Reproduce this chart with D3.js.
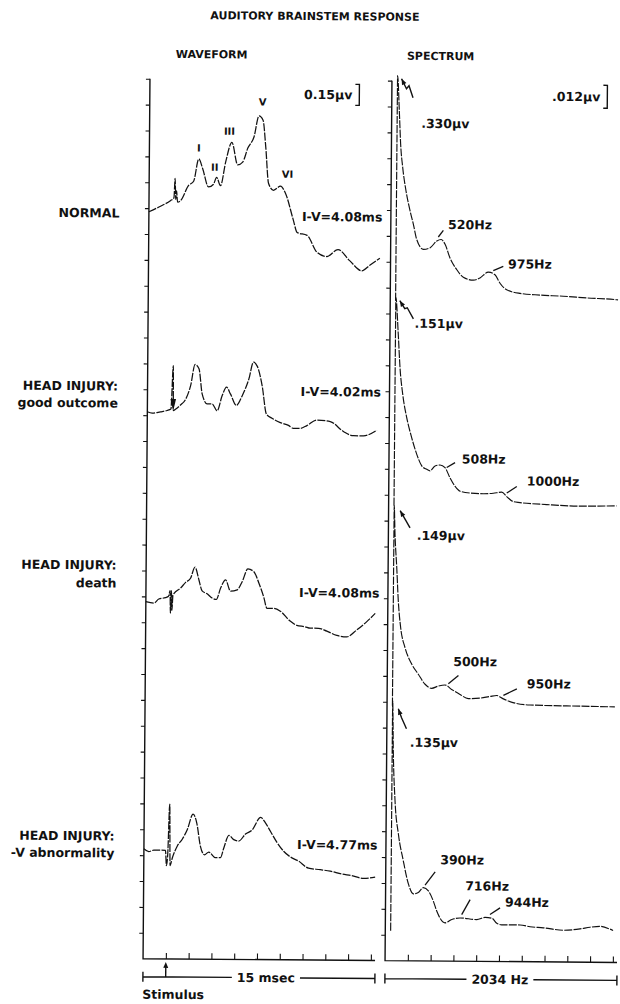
<!DOCTYPE html>
<html>
<head>
<meta charset="utf-8">
<script src="https://cdn.jsdelivr.net/npm/d3@7"></script>
<style>
  html, body { margin: 0; padding: 0; background: #fff; }
  svg { display: block; }
  text { font-family: "DejaVu Sans", sans-serif; font-weight: bold; fill: #111; }
</style>
</head>
<body>
<div id="chart"></div>
<script>
// ---- data ----
const rowLabels = [["NORMAL"], ["HEAD INJURY:", "good outcome"], ["HEAD INJURY:", "death"], ["HEAD INJURY:", "-V abnormality"]];
const intervalLabels = ["I-V=4.08ms", "I-V=4.02ms", "I-V=4.08ms", "I-V=4.77ms"];
const peakNames = ["I", "II", "III", "V", "VI"];
const peakTimes = [3.26, 4.44, 5.43, 7.20, 8.65]; // ms on the normal trace

// waveforms: [ms, µV relative to the trace baseline]
const waveNormal = [[0,0],[0.76,0.04],[1.41,0.08],[1.64,0.10],[1.71,0.24],[1.76,0.09],[1.81,0.15],[1.88,0.07],[2.07,0.08],[2.60,0.19],[2.93,0.22],[3.26,0.38],[3.52,0.31],[3.91,0.18],[4.24,0.20],[4.44,0.25],[4.70,0.19],[5.03,0.36],[5.43,0.50],[5.82,0.34],[6.15,0.36],[6.48,0.46],[6.88,0.54],[7.20,0.69],[7.47,0.66],[7.66,0.47],[7.86,0.21],[8.19,0.16],[8.65,0.19],[8.98,0.14],[9.51,-0.05],[9.77,-0.14],[10.43,-0.16],[11.09,-0.28],[11.74,-0.31],[12.47,-0.26],[13.26,-0.34],[14.05,-0.41],[14.57,-0.37],[15.23,-0.32]];
const waveGood = [[0,0],[0.32,-0.01],[0.86,0],[1.30,0.01],[1.55,0.02],[1.69,0.33],[1.71,0.01],[1.85,0.02],[2.18,0.05],[2.51,0.09],[2.84,0.19],[3.12,0.34],[3.38,0.31],[3.60,0.13],[3.93,0.06],[4.26,0.06],[4.59,0.01],[4.92,0.12],[5.20,0.18],[5.47,0.13],[5.86,0.05],[6.24,0.12],[6.67,0.24],[6.96,0.36],[7.22,0.33],[7.55,0.19],[7.84,-0.01],[8.21,-0.04],[8.76,-0.07],[9.30,-0.09],[9.63,-0.11],[10.07,-0.11],[10.51,-0.09],[11.17,-0.05],[12.05,-0.06],[12.92,-0.13],[13.58,-0.16],[14.24,-0.16],[15.12,-0.12]];
const waveDeath = [[0,0],[0.52,-0.01],[0.85,0.02],[1.29,0.03],[1.49,0.04],[1.59,0.08],[1.62,-0.08],[1.68,0.08],[1.72,-0.06],[1.78,0.05],[1.84,0.06],[2.28,0.10],[2.61,0.14],[2.93,0.17],[3.22,0.25],[3.48,0.16],[3.70,0.08],[4.03,0.06],[4.36,0.03],[4.64,0.02],[4.91,0.10],[5.24,0.16],[5.57,0.08],[6.01,0.09],[6.34,0.15],[6.70,0.24],[7.10,0.22],[7.43,0.14],[7.76,0.04],[7.98,-0.04],[8.41,-0.04],[8.86,-0.06],[9.51,-0.13],[9.95,-0.16],[10.50,-0.17],[10.83,-0.18],[11.38,-0.18],[11.93,-0.20],[12.59,-0.23],[13.24,-0.24],[13.90,-0.19],[14.56,-0.13],[15.11,-0.07]];
const waveAbnormal = [[0,0],[0.32,-0.02],[0.65,-0.01],[1.09,-0.01],[1.42,-0.01],[1.49,-0.12],[1.57,-0.04],[1.68,0.32],[1.73,-0.12],[1.86,-0.07],[2.19,0.02],[2.52,0.07],[2.85,0.14],[3.22,0.25],[3.46,0.19],[3.72,0.02],[3.99,-0.04],[4.27,-0.02],[4.71,-0.06],[5.04,-0.06],[5.26,0.01],[5.59,0.10],[5.91,0.07],[6.24,0.06],[6.68,0.11],[7.12,0.14],[7.67,0.23],[8.00,0.19],[8.33,0.13],[8.77,0.05],[9.20,-0.01],[9.64,-0.05],[10.19,-0.08],[10.85,-0.13],[11.62,-0.14],[12.28,-0.15],[13.05,-0.17],[13.70,-0.18],[14.47,-0.20],[15.24,-0.19]];

// spectra: [Hz, µV]
const specNormal = [[48,0],[50,0.330],[68,0.099],[82,0.0818],[102,0.0696],[133,0.0574],[171,0.0469],[201,0.0400],[232,0.0321],[293,0.0269],[353,0.0278],[412,0.0313],[450,0.0321],[486,0.0296],[530,0.0226],[591,0.0165],[651,0.0125],[740,0.0110],[800,0.0122],[874,0.0153],[934,0.0139],[979,0.0095],[1039,0.0061],[1158,0.0043],[1337,0.0035],[1545,0.0030],[1754,0.0022],[2020,0.0014],[2034,0.0013]];
const specGood = [[48,0],[50,0.151],[74,0.0896],[92,0.0721],[118,0.0582],[155,0.0461],[201,0.0356],[247,0.0270],[293,0.0209],[338,0.0191],[367,0.0183],[412,0.0209],[456,0.0214],[501,0.0200],[546,0.0148],[591,0.0104],[637,0.0078],[726,0.0069],[845,0.0066],[934,0.0069],[1009,0.0075],[1054,0.0052],[1113,0.0026],[1173,0.0021],[1412,0.0012],[1710,0.0005],[2034,0.0008]];
const specDeath = [[48,0],[50,0.149],[59,0.0896],[77,0.0721],[93,0.0548],[116,0.0408],[156,0.0304],[217,0.0218],[277,0.0165],[338,0.0113],[397,0.0092],[456,0.0104],[516,0.0110],[576,0.0087],[651,0.0061],[725,0.0040],[829,0.0043],[919,0.0052],[979,0.0057],[1038,0.0040],[1124,0.0021],[1276,0.0009],[1723,0.0005],[2034,0.0003]];
const specAbnormal = [[48,0],[50,0.135],[59,0.0939],[78,0.0678],[110,0.0506],[156,0.0365],[203,0.0245],[248,0.0193],[292,0.0200],[337,0.0226],[382,0.0209],[427,0.0156],[458,0.0104],[533,0.0043],[593,0.0061],[667,0.0069],[816,0.0061],[890,0.0073],[950,0.0069],[995,0.0043],[1039,0.0035],[1203,0.0035],[1292,0.0026],[1411,0.0021],[1589,0.0009],[1739,0.0017],[1828,0.0026],[1917,0.0031],[2006,0.0017],[2034,0.0010]];

const specPeakValues = [0.330, 0.151, 0.149, 0.135];
const specPeakLabels = [".330µv", ".151µv", ".149µv", ".135µv"];
const bumpLabels = [["520Hz", "975Hz"], ["508Hz", "1000Hz"], ["500Hz", "950Hz"], ["390Hz", "716Hz", "944Hz"]];
const bumpHz = [[425, 918], [516, 1054], [546, 1038], [352, 681, 934]];

const waveScaleLabel = "0.15µv", waveScaleValue = 0.15;
const specScaleLabel = ".012µv", specScaleValue = 0.012;
const timeSpanLabel = "15 msec", freqSpanLabel = "2034 Hz";
const stimulusTime = 1.5;

// ---- layout ----
const width = 620, height = 1004;
const waveBase = [213, 413, 603, 850];
const specBase = [300, 505, 705, 930];
const specTop = [75, 297, 505, 700];
const rowLabelY = [[219], [392, 409], [571, 589], [842, 859]];
const intervalY = [221, 396, 597, 849];
const peakLabelOffsets = [[0, -7.5], [-2, -6.5], [-2.5, -7.5], [3.5, -10.5], [7, -8.5]];
const bumpLeader = [[[5, -6.7], [10, -4.3]], [[8.3, -5], [10, -6.7]], [[10, -8.4], [13.4, -6.6]], [[10, -13.3], [8.3, -15], [10, -6.7]]];
const bumpText = [[[9.7, -8], [14.7, -2.3]], [[15, -4.3], [20, -7.7]], [[4.7, -17.7], [23.4, -7.3]], [[15, -21], [3.3, -24.3], [15, -8]]];
const peakArrows = [
  [[4, 3], [9, 13], [11.5, 10], [15.6, 22]],
  [[4, 3], [9, 11], [11.5, 10], [17.7, 21]],
  [[6, 5], [16, 22]],
  [[5.7, 8], [9, 17], [14, 28]]
];
const peakTextOffsets = [[24, 52], [19, 30], [22.7, 34], [17.5, 46]];

const svg = d3.select("#chart").append("svg")
  .attr("width", width)
  .attr("height", height);
svg.append("rect").attr("width", width).attr("height", height).attr("fill", "#fff");

// the scanned original sits slightly rotated
const g = svg.append("g").attr("transform", "rotate(0.45 310 520)");

const xWave = d3.scaleLinear().domain([0, 15]).range([146.5, 374.3]);
const xSpec = d3.scaleLinear().domain([0, 2034]).range([388.5, 616.3]);
const yDiv = d3.scaleLinear().domain([0, 34]).range([960, 80]);
const aWave = d3.scaleLinear().domain([0, 0.15]).range([0, 21]);
const aSpec = d3.scaleLinear().domain([0, 0.012]).range([0, 23]);

// titles
g.append("text").attr("x", 311).attr("y", 20).attr("text-anchor", "middle")
  .style("font-size", "11px").text("AUDITORY BRAINSTEM RESPONSE");
g.append("text").attr("x", 208).attr("y", 59).attr("text-anchor", "middle")
  .style("font-size", "11px").text("WAVEFORM");
g.append("text").attr("x", 437).attr("y", 59).attr("text-anchor", "middle")
  .style("font-size", "11px").text("SPECTRUM");

// axes
function drawAxes(xs, tickVals, extra) {
  const x0 = xs.range()[0];
  const x1 = xs.range()[1] + extra;
  const ax = g.append("g").attr("transform", `translate(${x0},0)`)
    .call(d3.axisLeft(yDiv).tickValues(d3.range(1, 35)).tickSize(4).tickSizeOuter(0).tickFormat(""));
  ax.select(".domain").remove();
  const bx = g.append("g").attr("transform", "translate(0,960)")
    .call(d3.axisBottom(xs).tickValues(tickVals).tickSize(-6).tickSizeOuter(0).tickFormat(""));
  bx.select(".domain").remove();
  g.selectAll(".tick line").attr("stroke", "#111").attr("stroke-width", 1.1);
  g.append("path")
    .attr("d", `M${x0},${yDiv(34)}V960H${x1}`)
    .attr("fill", "none").attr("stroke", "#111").attr("stroke-width", 1.4);
}
drawAxes(xWave, d3.range(1, 11).map(k => k * 1.5), 4.2);
drawAxes(xSpec, d3.range(1, 11).map(k => k * 203.4), 4.2);

const traceStyle = sel => sel.attr("fill", "none").attr("stroke", "#111")
  .attr("stroke-width", 1.25).attr("stroke-dasharray", "8,1.3").attr("stroke-linejoin", "round");

// waveforms
const waves = [waveNormal, waveGood, waveDeath, waveAbnormal];
waves.forEach((w, r) => {
  const line = d3.line()
    .x(d => xWave(d[0]))
    .y(d => waveBase[r] - aWave(d[1]))
    .curve(d3.curveMonotoneX);
  g.append("path").datum(w).attr("d", line).call(traceStyle);

  g.append("text").attr("x", 380).attr("y", intervalY[r]).attr("text-anchor", "end")
    .style("font-size", "12.5px").text(intervalLabels[r]);

  const lab = g.append("text").attr("text-anchor", "end").style("font-size", "12.5px");
  rowLabels[r].forEach((t, i) => {
    lab.append("tspan").attr("x", 117).attr("y", rowLabelY[r][i]).text(t);
  });
});

// stimulus arrowhead artefact on the second trace
{
  const sx = xWave(1.70), b = waveBase[1];
  g.append("path").attr("d", `M${sx - 2.8},${b - 13}L${sx + 2.8},${b - 13}L${sx},${b - 1}Z`).attr("fill", "#111");
}

function valueAt(data, v) {
  const i = Math.max(1, Math.min(data.length - 1, d3.bisector(d => d[0]).left(data, v)));
  const a = data[i - 1], b = data[i];
  const t = (v - a[0]) / (b[0] - a[0]);
  return a[1] + t * (b[1] - a[1]);
}

// peak labels on the normal trace
peakNames.forEach((n, i) => {
  const px = xWave(peakTimes[i]);
  const py = waveBase[0] - aWave(valueAt(waveNormal, peakTimes[i]));
  g.append("text").attr("x", px + peakLabelOffsets[i][0]).attr("y", py + peakLabelOffsets[i][1])
    .attr("text-anchor", "middle").style("font-size", "10px").text(n);
});

// spectra
const spectra = [specNormal, specGood, specDeath, specAbnormal];
spectra.forEach((s, r) => {
  const topVal = aSpec.invert(specBase[r] - specTop[r]);
  const yOf = v => specBase[r] - aSpec(Math.min(v, topVal));
  const line = d3.line()
    .x(d => xSpec(d[0]))
    .y(d => yOf(d[1]))
    .curve(d3.curveMonotoneX);
  g.append("path").datum(s).attr("d", line).call(traceStyle).attr("stroke-width", 1.15);

  // off-scale peak arrow
  const tx = xSpec(s[1][0]), ty = yOf(specPeakValues[r]);
  const pts = peakArrows[r].map(p => [tx + p[0], ty + p[1]]);
  g.append("path").attr("d", d3.line()(pts)).attr("fill", "none").attr("stroke", "#111").attr("stroke-width", 1.4);
  const [hx, hy] = pts[0], [nx, ny] = pts[1];
  const len = Math.hypot(nx - hx, ny - hy), ux = (nx - hx) / len, uy = (ny - hy) / len;
  g.append("path")
    .attr("d", `M${hx},${hy}L${hx + ux * 6 - uy * 2.4},${hy + uy * 6 + ux * 2.4}L${hx + ux * 6 + uy * 2.4},${hy + uy * 6 - ux * 2.4}Z`)
    .attr("fill", "#111");
  g.append("text").attr("x", tx + peakTextOffsets[r][0]).attr("y", ty + peakTextOffsets[r][1])
    .style("font-size", "12.5px").text(specPeakLabels[r]);

  // frequency bumps
  bumpLabels[r].forEach((t, i) => {
    const hz = bumpHz[r][i];
    const lx = xSpec(hz), ly = yOf(valueAt(s, hz)) - 3.5;
    const ld = bumpLeader[r][i], td = bumpText[r][i];
    g.append("line").attr("x1", lx).attr("y1", ly).attr("x2", lx + ld[0]).attr("y2", ly + ld[1])
      .attr("stroke", "#111").attr("stroke-width", 1.3);
    g.append("text").attr("x", lx + td[0]).attr("y", ly + td[1]).style("font-size", "12.5px").text(t);
  });
});

// calibration brackets
function bracket(x, top, h, label) {
  g.append("path").attr("d", `M${x - 4},${top}H${x}V${top + h}H${x - 4}`)
    .attr("fill", "none").attr("stroke", "#111").attr("stroke-width", 1.4);
  g.append("text").attr("x", x - 7).attr("y", top + h / 2 + 4.5).attr("text-anchor", "end")
    .style("font-size", "12.5px").text(label);
}
bracket(356, 84, aWave(waveScaleValue), waveScaleLabel);
bracket(604, 83, aSpec(specScaleValue), specScaleLabel);

// span markers under the axes
function span(x0, x1, cx, label) {
  const y = 978;
  const t = g.append("text").attr("x", cx).attr("y", y + 4.5).attr("text-anchor", "middle")
    .style("font-size", "12.5px").text(label);
  const w = t.node().getComputedTextLength();
  g.append("path")
    .attr("d", `M${x0},${y - 5}V${y + 5}M${x0},${y}H${cx - w / 2 - 5}M${cx + w / 2 + 5},${y}H${x1}M${x1},${y - 5}V${y + 5}`)
    .attr("fill", "none").attr("stroke", "#111").attr("stroke-width", 1.4);
}
span(xWave.range()[0], xWave.range()[1] + 4.2, 269.5, timeSpanLabel);
span(xSpec.range()[0], xSpec.range()[1] + 4.2, 503.5, freqSpanLabel);

// stimulus marker
{
  const sx = xWave(stimulusTime);
  g.append("line").attr("x1", sx).attr("x2", sx).attr("y1", 978).attr("y2", 967)
    .attr("stroke", "#111").attr("stroke-width", 1.4);
  g.append("path").attr("d", `M${sx},${963}L${sx - 2.5},${969}L${sx + 2.5},${969}Z`).attr("fill", "#111");
  g.append("text").attr("x", 146).attr("y", 1000).style("font-size", "12.5px").text("Stimulus");
}
</script>
</body>
</html>
